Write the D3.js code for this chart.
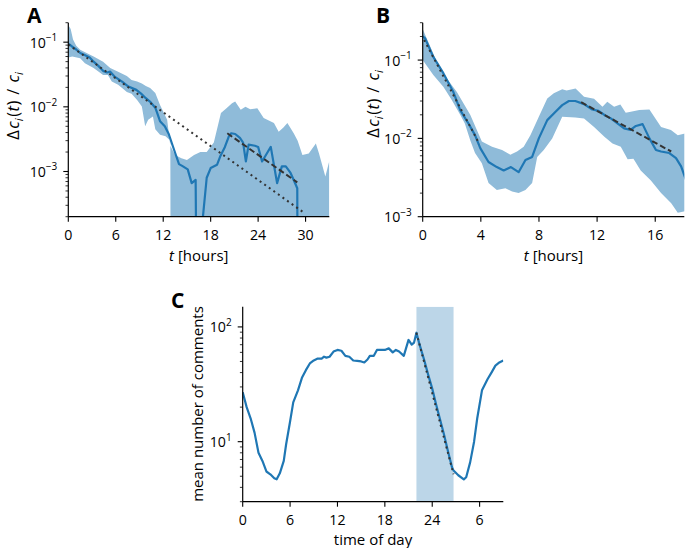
<!DOCTYPE html>
<html><head><meta charset="utf-8">
<script src="https://cdn.jsdelivr.net/npm/d3@7"></script>
<style>
body{margin:0;background:#fff}
svg{display:block}
text{font-family:"Open Sans",sans-serif;fill:#000}
</style>
</head><body>
<svg id="chart" width="685" height="548"></svg>
<script>
// ---------------- Panel A data ----------------
const aTime = [0,0.5,1.0,1.5,2.0,2.7,3.2,3.8,4.4,4.9,5.3,5.9,6.8,7.6,8.6,9.2,9.8,10.4,11.0,11.6,12.2,12.7,13.2,13.6,14.0,14.5,15.1,15.6,16.1,16.5,16.9,17.5,18.0,18.8,19.2,19.8,20.3,20.6,21.1,21.7,22.1,22.45,22.8,23.6,24.0,24.5,25.1,25.6,26.4,27.0,27.5,28.1,28.5,28.95,29.1];
const aMean = [0.095,0.085,0.077,0.068,0.064,0.058,0.050,0.043,0.036,0.034,0.035,0.029,0.0246,0.0206,0.0183,0.016,0.0136,0.0118,0.0097,0.0060,0.0050,0.0038,0.0025,0.0018,0.0013,0.0012,0.00108,0.00066,0.00074,0,0.00014,0.0008,0.00113,0.00127,0.0017,0.0024,0.0035,0.0039,0.0038,0.0033,0.0028,0.00143,0.0026,0.0025,0.0024,0.00143,0.0019,0.0024,0.00066,0.0012,0.0012,0.00095,0.00074,0.00055,0];
const aUpperTime = [0,0.3,0.6,1.0,1.5,2.5,3.2,4.4,5.3,6.3,7.4,8.0,8.7,9.3,9.8,10.35,11.0,11.6,12.5,12.9,13.5,14.3,15.0,15.9,16.7,17.5,18.4,19.3,20.0,20.7,21.1,21.8,22.4,23.0,23.9,24.7,26.0,26.6,27.2,27.7,28.5,29.0,29.6,30.4,31.3,31.7,32.5,33.0];
const aUpper = [0.185,0.16,0.11,0.088,0.076,0.066,0.060,0.050,0.040,0.035,0.030,0.026,0.0246,0.023,0.021,0.0195,0.0163,0.0107,0.0063,0.0025,0.0018,0.0016,0.0015,0.0018,0.0020,0.0020,0.0028,0.008,0.0095,0.0114,0.0121,0.009,0.010,0.0092,0.0095,0.0067,0.0056,0.0041,0.0048,0.0056,0.0039,0.0030,0.0018,0.0019,0.0027,0.0019,0.00084,0.00145];
const aLowerTime = [0,0.5,1.5,2.1,3.2,4.4,5.0,5.5,6.3,6.8,7.4,8.0,8.7,9.3,9.72,10.1,10.7,11.0,11.6,12.3,12.9,13.0,20.0,33.0];
const aLower = [0.058,0.060,0.0565,0.047,0.040,0.031,0.031,0.0246,0.022,0.0195,0.017,0.016,0.0128,0.0101,0.0050,0.0063,0.0071,0.0045,0.0037,0.0035,0.0030,0,0,0];
const aFitDottedTime = [0, 29.6];
const aFitDotted = [0.092, 0.00024];
const aFitDashedTime = [20.1, 28.95];
const aFitDashed = [0.0039, 0.00068];
const aXTicks = [0,6,12,18,24,30];

// ---------------- Panel B data ----------------
const bTime = [0,0.16,0.73,1.42,2.11,2.58,3.15,3.6,3.96,4.53,5.1,5.57,6.07,6.6,7.07,7.53,7.99,8.57,9.14,9.6,10.06,10.5,11.1,11.67,12.1,12.5,12.94,13.4,13.86,14.3,14.67,15.13,15.6,16.05,16.4,16.97,17.43,17.78,18.1];
const bMean = [0.20,0.19,0.11,0.068,0.039,0.023,0.0155,0.011,0.0075,0.0050,0.0043,0.0039,0.0043,0.0037,0.0053,0.0058,0.010,0.0171,0.0219,0.0266,0.030,0.030,0.0274,0.0234,0.0225,0.0199,0.018,0.0156,0.0134,0.0128,0.0144,0.0152,0.010,0.0071,0.0068,0.0065,0.0056,0.0044,0.003];
const bUpperTime = [0,0.97,1.66,2.35,3.27,4.07,4.77,5.46,6.03,6.49,6.95,7.41,7.99,8.57,9.02,9.6,9.9,10.52,11.1,11.79,12.37,12.7,13.17,13.6,13.97,14.4,14.9,15.6,16.4,17.08,17.55,18.1];
const bUpper = [0.25,0.095,0.058,0.039,0.020,0.0091,0.0078,0.0071,0.0062,0.0068,0.0078,0.011,0.0189,0.0323,0.0376,0.0423,0.041,0.0435,0.034,0.032,0.0254,0.0294,0.0254,0.027,0.0212,0.022,0.023,0.0234,0.014,0.0128,0.011,0.0116];
const bLowerTime = [0,0.73,1.42,2.0,2.58,2.9,3.27,3.6,4.07,4.53,5.1,5.69,6.15,6.6,7.07,7.53,7.88,8.33,8.91,9.6,10.5,11.1,11.79,12.5,13.06,13.63,14.1,14.5,15.0,15.7,16.4,17.1,17.55,18.1];
const bLower = [0.10,0.0644,0.0456,0.031,0.020,0.0155,0.0095,0.0065,0.0048,0.0027,0.0022,0.0023,0.0021,0.0020,0.0022,0.0027,0.0058,0.0071,0.010,0.0189,0.0185,0.018,0.014,0.0105,0.0086,0.0078,0.0054,0.0055,0.0039,0.0029,0.0020,0.00148,0.00112,0.00118];
const bFitDottedTime = [0.1, 3.9];
const bFitDotted = [0.18, 0.0085];
const bFitDashedTime = [10.9, 17.1];
const bFitDashed = [0.029, 0.0068];
const bXTicks = [0,4,8,12,16];

// ---------------- Panel C data ----------------
const cTime = [0,0.5,1,1.5,2,2.5,3,3.5,4,4.3,4.7,5.2,5.5,6,6.4,7,7.5,8,8.5,9,9.5,10,10.3,10.6,11,11.5,12,12.5,13,13.5,14,14.5,15,15.4,15.8,16.1,16.6,17,17.5,18,18.5,19,19.4,19.8,20.4,21,21.4,21.7,22,22.4,23,23.5,24,24.5,25,25.5,26,26.5,26.7,27.3,28,28.3,28.8,29.3,29.7,30.3,31,31.5,32,32.5,33];
const cMean = [27,20,16,12,8,6.8,5.5,5.2,4.8,4.7,5.3,6.8,9.5,15,22,28,36,42,48,51,53,53,55,54,55,61,63,62,56,55,51,50.5,50,49,52,56,56,63,63,63,65,60,63,61,56,77,70,73,89,70,51,38,29,21,15.5,11.5,8.2,6.0,5.6,5.1,4.7,4.9,6.6,10,16,28,35,40,46,49,51];
const cFitTime = [22.0, 26.7];
const cFit = [89, 5.2];
const cBand = [22.0, 26.7];
const cXTicks = [0,6,12,18,24,30];
const cXTickLabels = ["0","6","12","18","24","6"];

// ---------------- drawing ----------------
const svg = d3.select("#chart");
const BLUE = "#1f77b4", BAND = "#8fbbd9", FIT = "#333333";
const FS = 14.2;
const FLOOR = 1e-9;

function supLabel(sel, v) {
  const e = Math.round(Math.log10(v));
  sel.append("tspan").text("10");
  sel.append("tspan").attr("dy", -6.5).attr("font-size", 10).text(String(e).replace("-", "\u2212"));
}

function panel(id, box, xDomain, yDomain, xTicks, xTickLabels) {
  const g = svg.append("g");
  const x = d3.scaleLinear().domain(xDomain).range([box.l, box.r]);
  const y = d3.scaleLog().domain(yDomain).range([box.b, box.t]);
  svg.append("clipPath").attr("id", id).append("rect")
    .attr("x", box.l).attr("y", box.t).attr("width", box.r - box.l).attr("height", box.b - box.t);
  const plot = g.append("g").attr("clip-path", `url(#${id})`);
  const ax = g.append("g").attr("class", "axes");
  ax.append("line").attr("x1", box.l).attr("x2", box.l).attr("y1", box.t).attr("y2", box.b).attr("stroke", "#000").attr("stroke-width", 1.2);
  ax.append("line").attr("x1", box.l).attr("x2", box.r).attr("y1", box.b).attr("y2", box.b).attr("stroke", "#000").attr("stroke-width", 1.2);
  xTicks.forEach((t, i) => {
    ax.append("line").attr("x1", x(t)).attr("x2", x(t)).attr("y1", box.b).attr("y2", box.b + 5).attr("stroke", "#000").attr("stroke-width", 1.1);
    ax.append("text").attr("x", x(t)).attr("y", box.b + 23.5).attr("text-anchor", "middle").attr("font-size", FS)
      .text(xTickLabels ? xTickLabels[i] : String(t));
  });
  const lo = Math.floor(Math.log10(yDomain[0])), hi = Math.ceil(Math.log10(yDomain[1]));
  for (let e = lo; e <= hi; e++) {
    for (let m = 1; m <= 9; m++) {
      const v = m * Math.pow(10, e);
      if (v < yDomain[0] * 0.999 || v > yDomain[1] * 1.001) continue;
      const major = m === 1;
      ax.append("line").attr("x1", box.l - (major ? 5 : 2.8)).attr("x2", box.l).attr("y1", y(v)).attr("y2", y(v))
        .attr("stroke", "#000").attr("stroke-width", major ? 1.1 : 0.8);
      if (major) {
        const t = ax.append("text").attr("x", box.l - 11).attr("y", y(v) + 5.5).attr("text-anchor", "end").attr("font-size", FS);
        supLabel(t, v);
      }
    }
  }
  return {g, plot, x, y};
}

function linePath(x, y, ts, vs) {
  return d3.line().x(d => x(d[0])).y(d => y(Math.max(d[1], FLOOR)))(ts.map((t, i) => [t, vs[i]]));
}
function bandPath(x, y, ut, uv, lt, lv) {
  const pts = ut.map((t, i) => [t, uv[i]]).concat(lt.map((t, i) => [t, lv[i]]).reverse());
  return d3.line().x(d => x(d[0])).y(d => y(Math.max(d[1], FLOOR)))(pts) + "Z";
}

function yLabel(xPos, yPos) {
  const t = svg.append("text").attr("transform", `translate(${xPos},${yPos}) rotate(-90)`).attr("text-anchor", "middle").attr("font-size", 16.5);
  t.append("tspan").text("\u0394");
  t.append("tspan").attr("font-style", "italic").attr("dx", 1.5).text("c");
  t.append("tspan").attr("font-style", "italic").attr("font-size", 11.5).attr("dy", 3.5).text("i");
  t.append("tspan").attr("dy", -3.5).attr("dx", 1.5).text("(");
  t.append("tspan").attr("font-style", "italic").attr("dx", 0.5).text("t");
  t.append("tspan").attr("dx", 0.5).text(")");
  t.append("tspan").attr("dx", 6).text("/");
  t.append("tspan").attr("font-style", "italic").attr("dx", 6).text("c");
  t.append("tspan").attr("font-style", "italic").attr("font-size", 11.5).attr("dy", 3.5).text("i");
}
function xLabelT(xPos, yPos) {
  const t = svg.append("text").attr("x", xPos).attr("y", yPos).attr("text-anchor", "middle").attr("font-size", 15);
  t.append("tspan").attr("font-style", "italic").text("t");
  t.append("tspan").text(" [hours]");
}
function panelLetter(txt, xPos, yPos) {
  svg.append("text").attr("x", xPos).attr("y", yPos).attr("font-family", "'Liberation Sans',Arial,sans-serif")
    .attr("font-weight", "bold").attr("font-size", 21).text(txt);
}

// Panel A
{
  const P = panel("clipA", {l: 68.3, r: 329.3, t: 22.7, b: 216.7}, [0, 33], [2e-4, 0.2], aXTicks);
  P.plot.append("path").attr("d", bandPath(P.x, P.y, aUpperTime, aUpper, aLowerTime, aLower)).attr("fill", BAND);
  P.plot.append("path").attr("d", linePath(P.x, P.y, aTime, aMean)).attr("fill", "none").attr("stroke", BLUE).attr("stroke-width", 2.2).attr("stroke-linejoin", "round");
  P.plot.append("path").attr("d", linePath(P.x, P.y, aFitDottedTime, aFitDotted)).attr("fill", "none").attr("stroke", FIT).attr("stroke-width", 2).attr("stroke-dasharray", "2,3.6");
  P.plot.append("path").attr("d", linePath(P.x, P.y, aFitDashedTime, aFitDashed)).attr("fill", "none").attr("stroke", FIT).attr("stroke-width", 2).attr("stroke-dasharray", "6,3");
  yLabel(19, 106);
  xLabelT(198.8, 261);
  panelLetter("A", 27, 23);
}
// Panel B
{
  const P = panel("clipB", {l: 422.7, r: 684.3, t: 22.7, b: 216.7}, [0, 18], [1e-3, 0.3], bXTicks);
  P.plot.append("path").attr("d", bandPath(P.x, P.y, bUpperTime, bUpper, bLowerTime, bLower)).attr("fill", BAND);
  P.plot.append("path").attr("d", linePath(P.x, P.y, bTime, bMean)).attr("fill", "none").attr("stroke", BLUE).attr("stroke-width", 2.2).attr("stroke-linejoin", "round");
  P.plot.append("path").attr("d", linePath(P.x, P.y, bFitDottedTime, bFitDotted)).attr("fill", "none").attr("stroke", FIT).attr("stroke-width", 2).attr("stroke-dasharray", "2,3.6");
  P.plot.append("path").attr("d", linePath(P.x, P.y, bFitDashedTime, bFitDashed)).attr("fill", "none").attr("stroke", FIT).attr("stroke-width", 2).attr("stroke-dasharray", "6,3");
  yLabel(379, 104);
  xLabelT(553.5, 261);
  panelLetter("B", 376, 23);
}
// Panel C
{
  const P = panel("clipC", {l: 242.7, r: 503.3, t: 306.7, b: 501.7}, [0, 33], [3, 150], cXTicks, cXTickLabels);
  P.plot.append("rect").attr("x", P.x(cBand[0])).attr("width", P.x(cBand[1]) - P.x(cBand[0]))
    .attr("y", 306.7).attr("height", 501.7 - 306.7).attr("fill", "#bcd6e8");
  P.plot.append("path").attr("d", linePath(P.x, P.y, cTime, cMean)).attr("fill", "none").attr("stroke", BLUE).attr("stroke-width", 2.2).attr("stroke-linejoin", "round");
  P.plot.append("path").attr("d", linePath(P.x, P.y, cFitTime, cFit)).attr("fill", "none").attr("stroke", FIT).attr("stroke-width", 2).attr("stroke-dasharray", "2,3.6");
  svg.append("text").attr("transform", "translate(203,404) rotate(-90)").attr("text-anchor", "middle").attr("font-size", 15).text("mean number of comments");
  svg.append("text").attr("x", 373).attr("y", 545).attr("text-anchor", "middle").attr("font-size", 15).text("time of day");
  panelLetter("C", 171, 308);
}
</script>
</body></html>
